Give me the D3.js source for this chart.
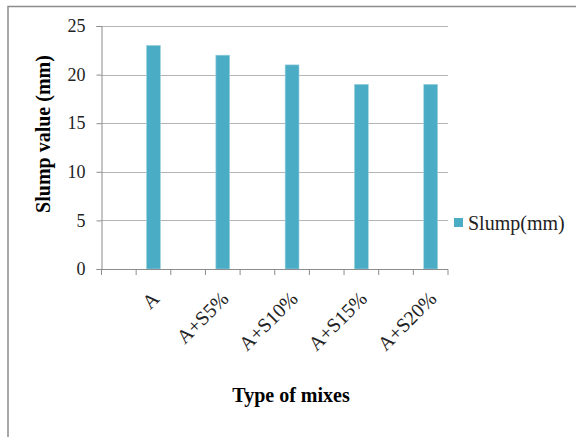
<!DOCTYPE html>
<html><head><meta charset="utf-8">
<script src="https://cdn.jsdelivr.net/npm/d3@7"></script>
<style>body{margin:0;background:#fff}svg{display:block}svg text{font-family:"Liberation Serif","Times New Roman",serif !important}</style>
</head><body>
<script>
const slotLabels = ["", "A", "", "A+S5%", "", "A+S10%", "", "A+S15%", "", "A+S20%"];
const slumpValues = [null, 23, null, 22, null, 21, null, 19, null, 19];
const yTicks = [0, 5, 10, 15, 20, 25];
const seriesName = "Slump(mm)";

const W = 576, H = 437;
const svg = d3.select("body").append("svg").attr("width", W).attr("height", H);
svg.append("rect").attr("x", 8).attr("y", 6.5).attr("width", 600).attr("height", 460)
  .attr("fill", "#fff").attr("stroke", "#8c8c8c").attr("stroke-width", 1.5);

const x = d3.scaleBand().domain(d3.range(slotLabels.length)).range([101.5, 448]).padding(0);
const y = d3.scaleLinear().domain([0, 25]).range([269, 26]);

// gridlines
svg.append("g").selectAll("line").data(yTicks.filter(t => t > 0)).join("line")
  .attr("x1", 101.5).attr("x2", 448).attr("y1", d => Math.round(y(d)) + 0.5).attr("y2", d => Math.round(y(d)) + 0.5)
  .attr("stroke", "#b5b5b5").attr("stroke-width", 1);

// bars
svg.append("g").selectAll("rect").data(slumpValues.map((v, i) => ({v, i})).filter(d => d.v != null)).join("rect")
  .attr("x", d => x(d.i) + x.bandwidth() * 0.3).attr("width", x.bandwidth() * 0.4)
  .attr("y", d => y(d.v)).attr("height", d => y(0) - y(d.v))
  .attr("fill", "#4BACC6").attr("stroke", "#9fd3e0").attr("stroke-width", 0.6);

// y axis
const yAxis = svg.append("g").attr("transform", "translate(101.5,0)")
  .call(d3.axisLeft(y).tickValues(yTicks).tickSize(5).tickPadding(11));
yAxis.attr("font-family", null).attr("font-size", null);
yAxis.select(".domain").attr("stroke", "#8c8c8c");
yAxis.selectAll(".tick line").attr("stroke", "#8c8c8c");
yAxis.selectAll(".tick text").style("font-size", "18px").attr("fill", "#222");

// x axis baseline
svg.append("line").attr("x1", 101.5).attr("x2", 448).attr("y1", 269.5).attr("y2", 269.5).attr("stroke", "#8c8c8c");
// boundary ticks
const bounds = d3.range(slotLabels.length + 1).map(i => x.range()[0] + i * x.step());
svg.append("g").selectAll("line").data(bounds).join("line")
  .attr("x1", d => d).attr("x2", d => d).attr("y1", 269.5).attr("y2", 275)
  .attr("stroke", "#8c8c8c");
// labels
svg.append("g").selectAll("text").data(slotLabels.map((l, i) => ({l, i})).filter(d => d.l)).join("text")
  .attr("transform", d => `translate(${x(d.i) + x.bandwidth() / 2 + 7},${300}) rotate(-45)`)
  .attr("text-anchor", "end").style("font-size", "20px").attr("fill", "#222").text(d => d.l);

// axis titles
svg.append("text").attr("transform", `translate(50,134) rotate(-90)`)
  .attr("text-anchor", "middle").style("font-size", "20px").attr("font-weight", "bold").text("Slump value (mm)");
svg.append("text").attr("x", 291).attr("y", 402).attr("text-anchor", "middle")
  .style("font-size", "20px").attr("font-weight", "bold").text("Type of mixes");

// legend
svg.append("rect").attr("x", 454).attr("y", 218).attr("width", 9).attr("height", 9).attr("fill", "#4BACC6");
svg.append("text").attr("x", 468).attr("y", 230).style("font-size", "20px").attr("fill", "#222").text(seriesName);
</script>
</body></html>
